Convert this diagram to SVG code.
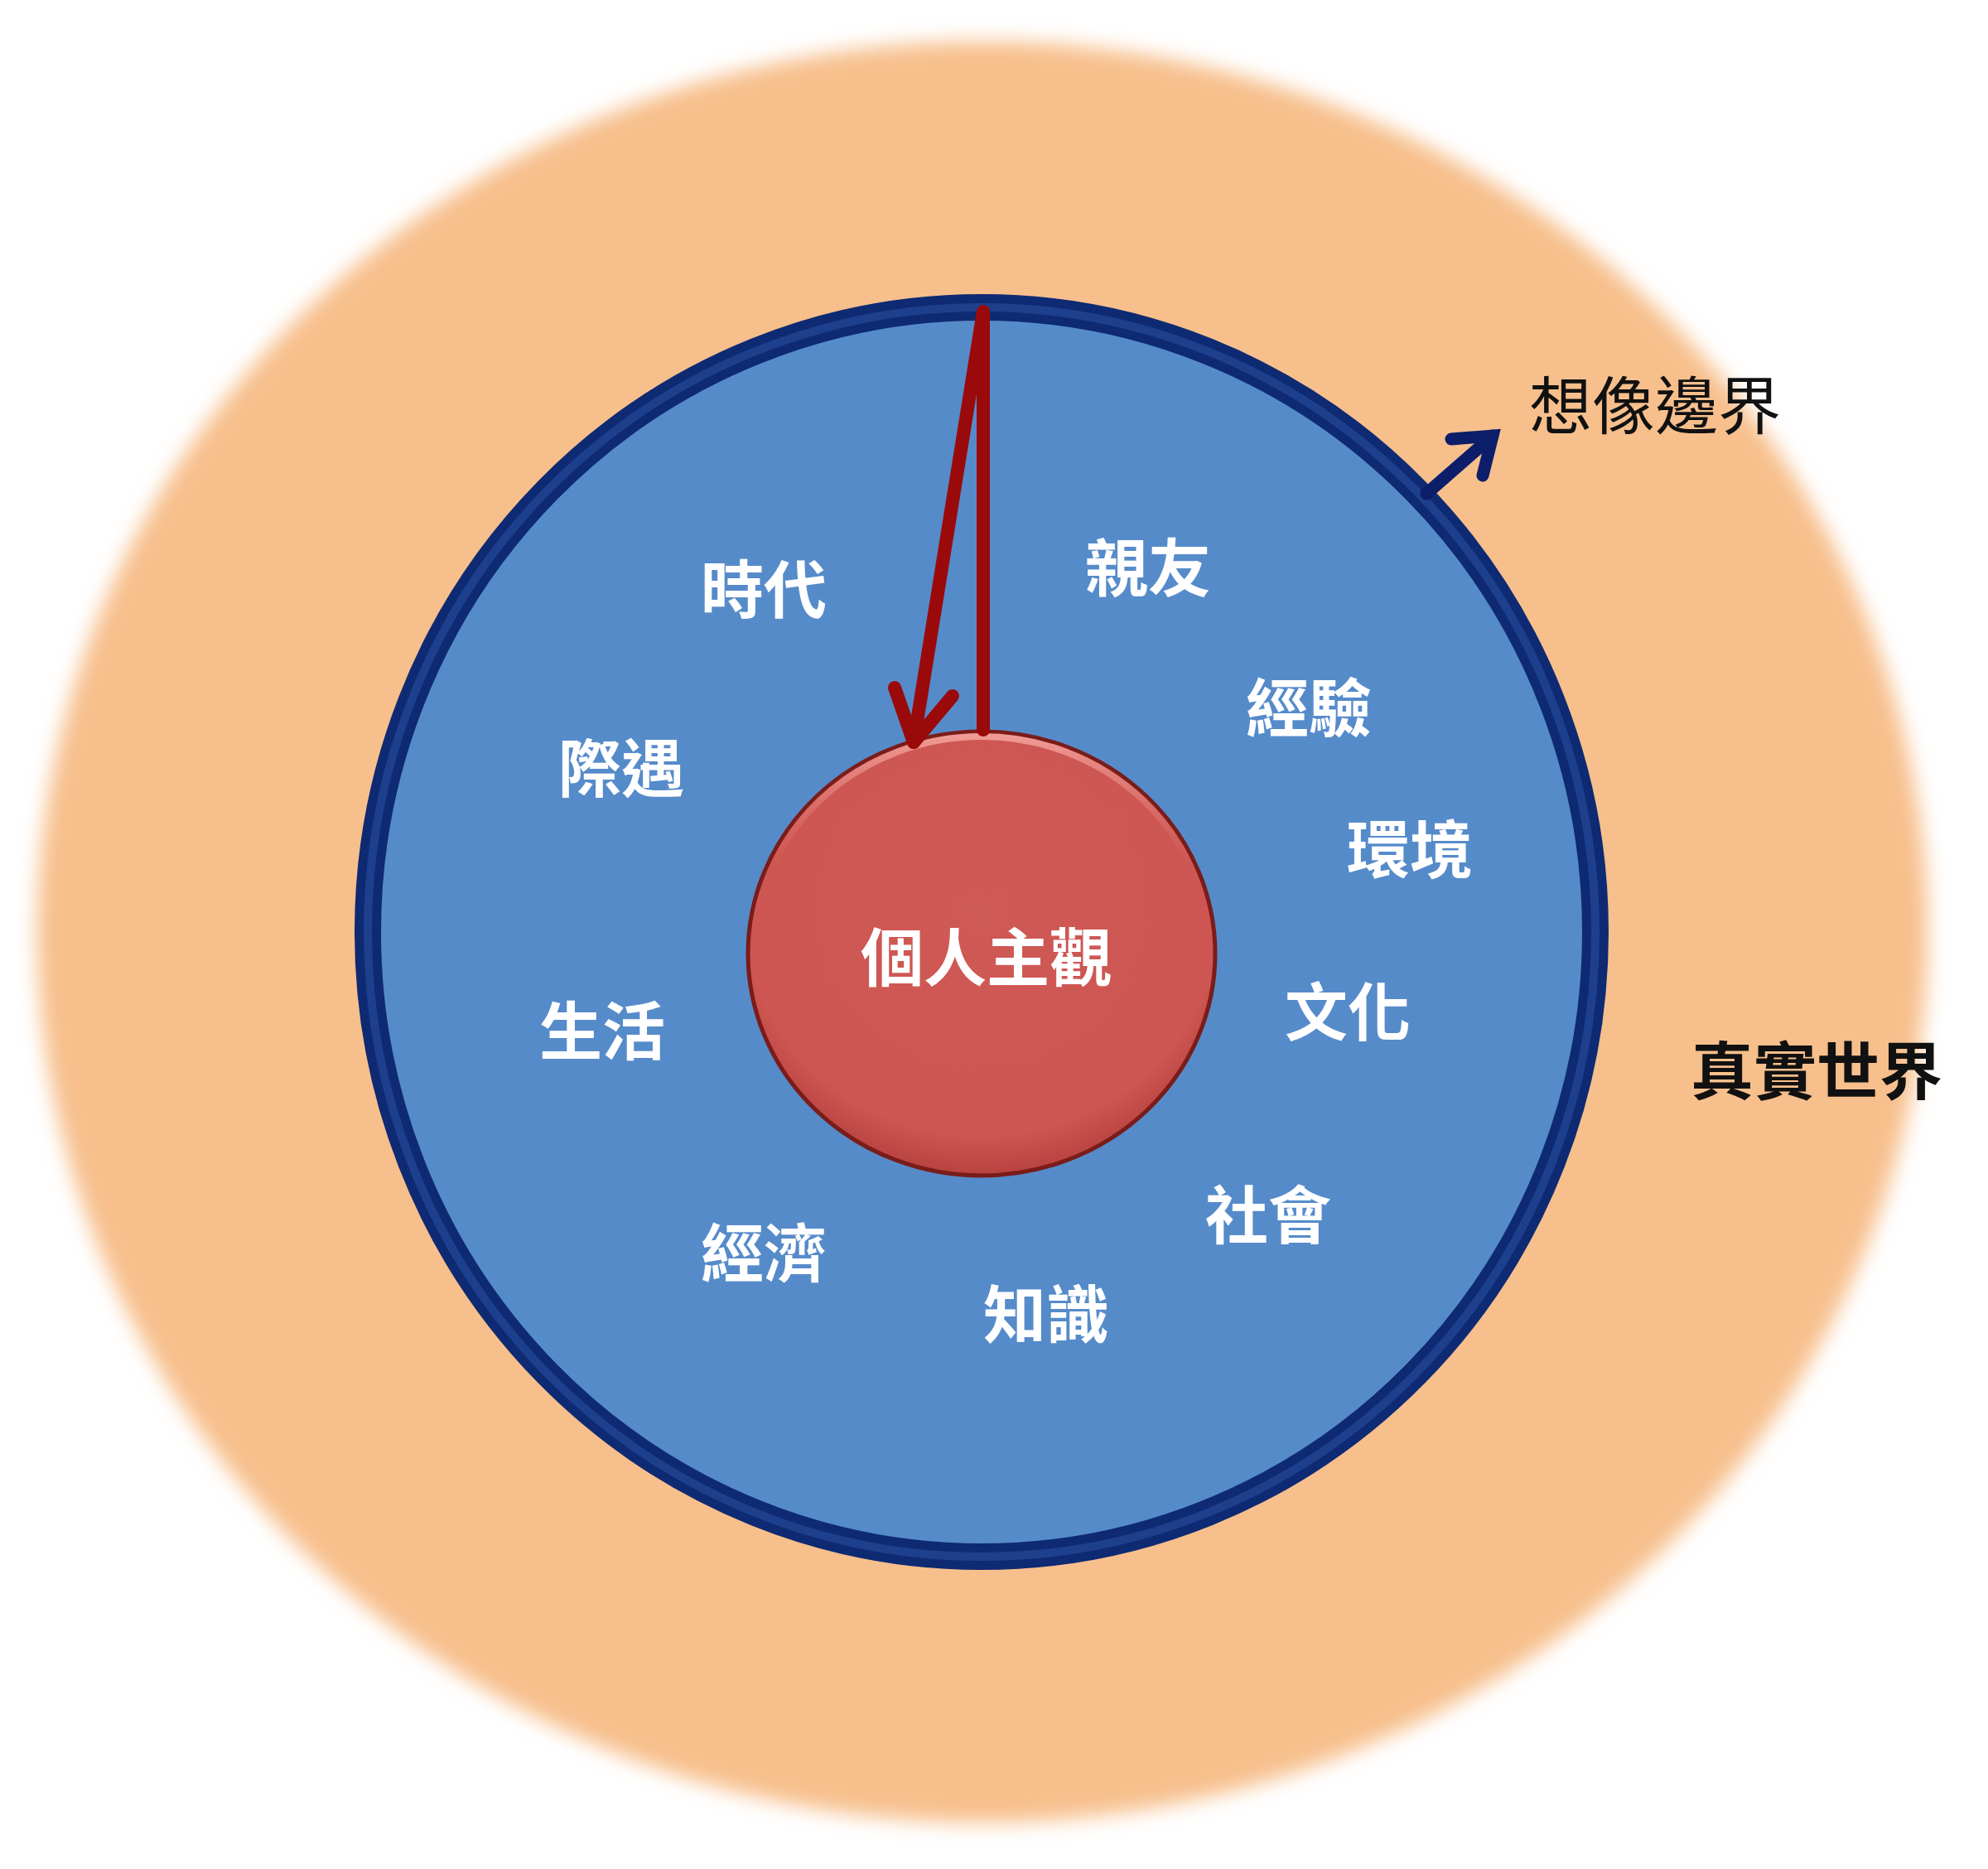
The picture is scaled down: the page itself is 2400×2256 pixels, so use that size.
<svg xmlns="http://www.w3.org/2000/svg" width="2400" height="2256" viewBox="0 0 2400 2256">
  <defs>
    <filter id="soft" x="-10%" y="-10%" width="120%" height="120%">
      <feGaussianBlur stdDeviation="12"/>
    </filter>
    <radialGradient id="redGrad" cx="50%" cy="40%" r="60%">
      <stop offset="0%" stop-color="#CF5955"/>
      <stop offset="85%" stop-color="#CD5652"/>
      <stop offset="100%" stop-color="#B8423F"/>
    </radialGradient>
    <linearGradient id="rim" x1="0" y1="0" x2="0" y2="1">
      <stop offset="0%" stop-color="#F09A94"/>
      <stop offset="30%" stop-color="#E07772" stop-opacity="0"/>
    </linearGradient>
  </defs>
  <style>
    .lbl { font-family: "Noto Sans CJK TC", "Noto Sans CJK SC", sans-serif; font-weight: 700; font-size: 76px; fill: #FFFFFF; text-anchor: middle; dominant-baseline: central; }
    .outer { font-family: "Noto Sans CJK TC", "Noto Sans CJK SC", sans-serif; font-size: 76px; fill: #111111; text-anchor: middle; dominant-baseline: central; }
    .red { stroke: #9A0A0A; stroke-width: 16; fill: none; stroke-linecap: round; stroke-linejoin: round; }
    .navy { stroke: #0C1E6A; stroke-width: 15; fill: none; stroke-linecap: round; stroke-linejoin: miter; }
  </style>
  <rect x="0" y="0" width="2400" height="2256" fill="#FFFFFF"/>

  <g id="real-world">
    <ellipse cx="1186" cy="1125" rx="1141" ry="1075" fill="#F7BF8C" filter="url(#soft)"/>
    <text class="outer" x="2193" y="1288" font-weight="700">真實世界</text>
  </g>

  <g id="imagination-boundary">
    <ellipse cx="1185" cy="1125" rx="741" ry="754" fill="#568BCA" stroke="#0E2A73" stroke-width="32"/>
    <ellipse cx="1185" cy="1125" rx="741" ry="754" fill="none" stroke="#1E3F8C" stroke-width="10"/>
    <text class="outer" x="1998" y="485">想像邊界</text>
  </g>

  <g id="personal-subjectivity">
    <ellipse cx="1185" cy="1151" rx="282" ry="268" fill="url(#redGrad)" stroke="#7A1C19" stroke-width="5"/>
    <ellipse cx="1185" cy="1151" rx="276" ry="262" fill="none" stroke="url(#rim)" stroke-width="8"/>
    <text class="lbl" x="1191" y="1151" font-size="80">個人主觀</text>
  </g>

  <g id="factors">
    <text id="t-era" class="lbl" x="922" y="707">時代</text>
    <text id="t-friends" class="lbl" x="1386" y="681">親友</text>
    <text id="t-experience" class="lbl" x="1580" y="850">經驗</text>
    <text id="t-encounter" class="lbl" x="750" y="923">際遇</text>
    <text id="t-environment" class="lbl" x="1702" y="1021">環境</text>
    <text id="t-life" class="lbl" x="727" y="1240">生活</text>
    <text id="t-culture" class="lbl" x="1627" y="1217">文化</text>
    <text id="t-society" class="lbl" x="1531" y="1462">社會</text>
    <text id="t-economy" class="lbl" x="922" y="1508">經濟</text>
    <text id="t-knowledge" class="lbl" x="1263" y="1582">知識</text>
  </g>

  <g id="connectors">
    <path class="red" d="M1187,881 L1187,376 L1103,896"/>
    <path class="red" d="M1080,830 L1103,896 L1150,840"/>
    <path class="navy" d="M1722,596 L1802,526"/>
    <path class="navy" d="M1752,530 L1802,526 L1790,574"/>
  </g>
</svg>
